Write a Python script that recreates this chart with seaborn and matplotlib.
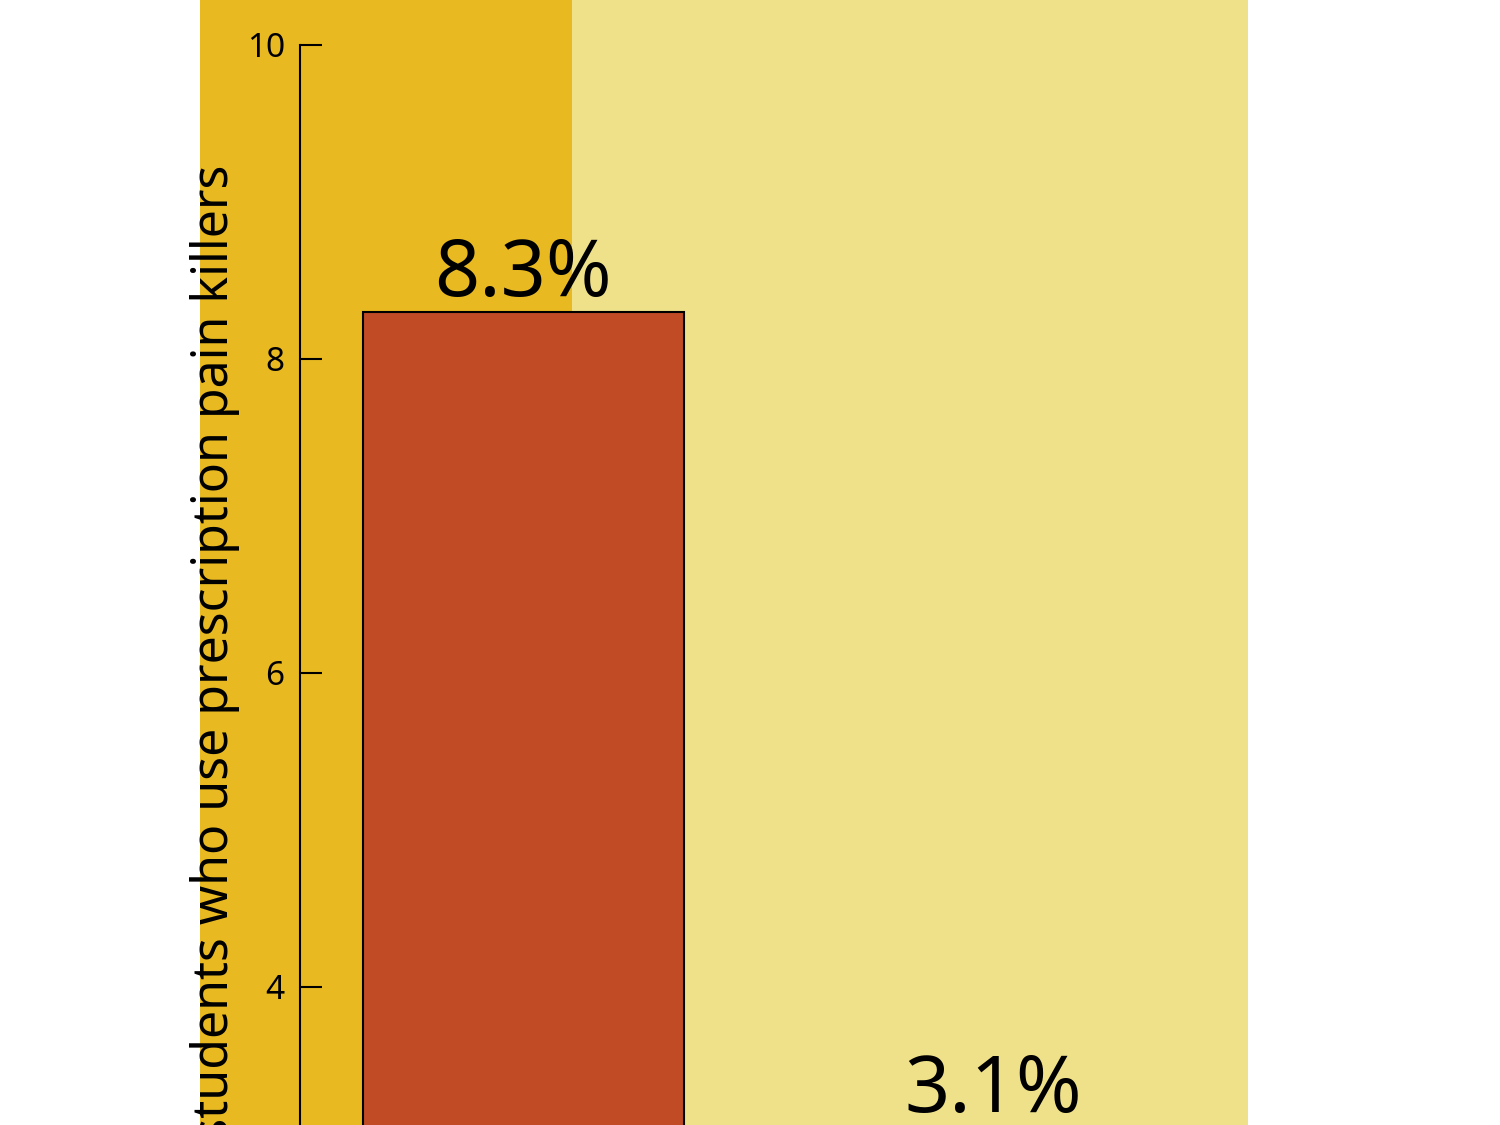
import matplotlib
matplotlib.use("Agg")
import matplotlib.pyplot as plt
import seaborn as sns
from matplotlib.patches import Rectangle

# data
groups = ["Group 1", "Group 2"]
pct_users = [8.3, 3.1]
y_ticks = [4, 6, 8, 10]
y_label = "Percentage of students who use prescription pain killers"

bar_color = "#C14B25"
dark_yellow = "#E8B921"
light_yellow = "#EFE18A"

sns.set_style("ticks")
plt.rcParams["font.family"] = ["Noto Sans", "DejaVu Sans"]
plt.rcParams["text.color"] = "black"
plt.rcParams["axes.edgecolor"] = "black"
plt.rcParams["ytick.color"] = "black"
plt.rcParams["ytick.labelcolor"] = "black"

fig = plt.figure(figsize=(15, 11.25), dpi=100)
fig.patch.set_facecolor("white")

# background panels
fig.add_artist(Rectangle((200 / 1500, 0), 372 / 1500, 1, transform=fig.transFigure,
                         facecolor=dark_yellow, edgecolor="none", zorder=0))
fig.add_artist(Rectangle((572 / 1500, 0), 676 / 1500, 1, transform=fig.transFigure,
                         facecolor=light_yellow, edgecolor="none", zorder=0))

# axes run past the bottom edge of the picture (the reference is cropped)
ax = fig.add_axes([300 / 1500, -490 / 1125, 948 / 1500, 1570 / 1125])
ax.set_facecolor("none")

sns.barplot(x=groups, y=pct_users, color=bar_color, saturation=1,
            edgecolor="black", linewidth=1.5, width=0.683, ax=ax)

ax.set_ylim(0, 10)
ax.set_xlim(-0.4755, 1.5426)
ax.set_yticks(y_ticks)
ax.tick_params(axis="y", direction="in", length=16, width=1.5, pad=11,
               labelsize=24, color="black", labelcolor="black")
ax.tick_params(axis="x", length=0)
ax.set_xlabel("")
ax.set_ylabel("")
sns.despine(ax=ax, bottom=True)
ax.spines["left"].set_linewidth(1.5)
ax.spines["left"].set_color("black")

ax.bar_label(ax.containers[0], fmt="%.1f%%", padding=-2, fontsize=57, color="black")

fig.text(215 / 1500, 1 - 165 / 1125, y_label, rotation=90, ha="center", va="top",
         fontsize=36, color="black")

fig.savefig("out.png", dpi=100)
